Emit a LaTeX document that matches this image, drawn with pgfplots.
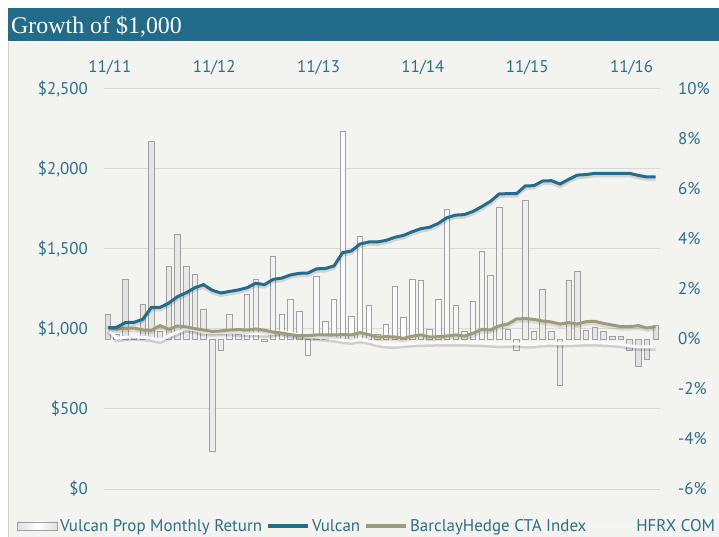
\documentclass[border=0pt]{standalone}
\usepackage{fontspec}
\setmainfont{PT Sans}
\newfontfamily\titlefont{Liberation Serif}
\usepackage{pgfplots}
\usepackage{pgfplotstable}
\pgfplotsset{compat=1.18}
\definecolor{titlebar}{HTML}{236B8A}
\definecolor{panel}{HTML}{F3F3EF}
\definecolor{ticktxt}{HTML}{2B6F8D}
\definecolor{vulcan}{HTML}{226D8D}
\definecolor{cta}{HTML}{9C9C78}
\definecolor{hfrx}{HTML}{FAFAFA}
\definecolor{gridc}{HTML}{D8D8D4}
\definecolor{bardraw}{HTML}{A0A0A0}
\definecolor{barside}{HTML}{E0E0E0}

\pgfplotstableread{
i r v c h
0 1.0 1008 1008 998
1 0.2 1010 1000 942
2 2.4 1040 1004 948
3 0.1 1042 1006 952
4 1.4 1060 994 948
5 7.9 1135 992 942
6 0.3 1135 1021 931
7 2.9 1162 998 956
8 4.2 1202 1019 981
9 2.9 1227 1013 1002
10 2.6 1258 1002 994
11 1.2 1277 994 979
12 -4.5 1242 985 977
13 -0.45 1225 988 979
14 1.0 1235 994 979
15 0.2 1244 996 977
16 1.8 1258 994 973
17 2.4 1286 1000 973
18 -0.1 1277 992 969
19 3.3 1310 981 973
20 1.0 1318 975 985
21 1.6 1338 965 973
22 1.1 1348 958 963
23 -0.65 1350 958 952
24 2.5 1376 963 950
25 0.7 1378 963 945
26 1.6 1394 963 940
27 8.3 1477 965 930
28 0.9 1488 963 925
29 4.1 1531 977 935
30 1.35 1544 965 925
31 0.2 1544 950 910
32 0.6 1554 952 902
33 2.1 1573 950 900
34 0.85 1585 942 905
35 2.4 1608 955 910
36 2.35 1627 963 912
37 0.4 1636 950 913
38 1.6 1660 952 915
39 5.2 1696 956 915
40 1.35 1712 963 915
41 0.3 1715 956 915
42 1.5 1735 973 912
43 3.5 1765 998 912
44 2.55 1798 994 908
45 5.25 1844 1019 905
46 0.4 1846 1031 905
47 -0.45 1846 1063 908
48 5.55 1894 1065 903
49 0.3 1896 1060 903
50 2.0 1925 1050 910
51 0.3 1927 1044 912
52 -1.85 1906 1031 908
53 2.35 1935 1040 910
54 2.7 1962 1031 912
55 0.35 1965 1046 915
56 0.45 1973 1048 915
57 0.3 1973 1035 912
58 0.1 1973 1025 910
59 0.1 1973 1015 905
60 -0.45 1973 1015 895
61 -1.1 1960 1021 888
62 -0.8 1950 1006 888
63 0.55 1950 1015 888
}\data

\pgfplotsset{
  base/.style={
    scale only axis, width=556bp, height=400bp,
    at={(104bp,48bp)}, anchor=south west,
    xmin=-0.45, xmax=63.5,
    axis line style={draw=none}, tick style={draw=none},
    ticklabel style={text=ticktxt, font=\fontsize{17}{19}\selectfont},
  }
}

\begin{document}
\begin{tikzpicture}
\useasboundingbox (0bp,0bp) rectangle (719bp,537bp);
\fill[white] (0bp,0bp) rectangle (719bp,537bp);
\fill[panel] (8bp,0bp) rectangle (719bp,495bp);
\draw[gray!35, line width=1bp] (8.5bp,0bp) -- (8.5bp,495bp);
\fill[titlebar] (8bp,496bp) rectangle (719bp,529bp);
\node[anchor=base west, text=white, inner sep=0pt, font=\titlefont\fontsize{24}{26}\selectfont] at (11bp,503bp) {Growth of \$1,000};

% axis A: grid, left labels, top labels
\begin{axis}[base,
  ymin=0, ymax=2500, ytick={0,500,...,2500},
  yticklabels={{\$0},{\$500},{\$1,000},{\$1,500},{\$2,000},{\$2,500}},
  ymajorgrids, grid style={gridc, line width=1bp},
  yticklabel style={anchor=east, inner sep=0pt, xshift=-16bp},
  xtick={0,12,24,36,48,60},
  xticklabels={11/11,11/12,11/13,11/14,11/15,11/16},
  xticklabel pos=upper,
  xticklabel style={anchor=base, inner sep=0pt, yshift=16bp, xshift=2bp},
]
\addplot[draw=none, forget plot] coordinates {(0,1000)};
\end{axis}

% axis B: monthly return bars, right axis
\begin{axis}[base,
  ymin=-6, ymax=10, ytick={-6,-4,...,10},
  yticklabels={-6\%,-4\%,-2\%,0\%,2\%,4\%,6\%,8\%,10\%},
  yticklabel pos=right,
  yticklabel style={anchor=west, inner sep=0pt, xshift=18bp},
  xtick=\empty,
]
\addplot[ybar, bar width=5.5bp, draw=bardraw, line width=0.8bp,
  left color=barside, right color=barside, middle color=white]
  table[x=i, y=r] {\data};
\end{axis}

% axis C: growth lines + legend
\begin{axis}[base,
  ymin=0, ymax=2500, ytick=\empty, xtick=\empty,
  legend image code/.code={\draw[#1] (0bp,0bp) -- (40bp,0bp);},
  legend style={at={(-0.1565,-0.0925)}, anchor=west, draw=none, fill=none,
    inner sep=0pt, font=\fontsize{17}{19}\selectfont, text=ticktxt,
    legend columns=4,
    nodes={inner sep=2.2bp},
    /tikz/every even column/.append style={column sep=2.5bp}},
  legend cell align=left,
]
\addplot[black, opacity=0.15, line width=3bp, yshift=-2.5bp, forget plot] table[x=i, y=h] {\data};
\addplot[hfrx, line width=3bp, forget plot] table[x=i, y=h] {\data};
\addplot[black, opacity=0.10, line width=3bp, yshift=-2.5bp, forget plot] table[x=i, y=c] {\data};
\addplot[cta, line width=3bp, forget plot] table[x=i, y=c] {\data};
\addplot[black, opacity=0.13, line width=3bp, yshift=-2.5bp, forget plot] table[x=i, y=v] {\data};
\addplot[vulcan, line width=3bp, forget plot] table[x=i, y=v] {\data};

\addlegendimage{legend image code/.code={\draw[bardraw, line width=0.8bp, left color=barside, right color=barside, middle color=white] (0bp,-4bp) rectangle (40bp,4bp);}}
\addlegendentry{Vulcan Prop Monthly Return}
\addlegendimage{vulcan, line width=3bp}
\addlegendentry{Vulcan}
\addlegendimage{cta, line width=3bp}
\addlegendentry{BarclayHedge CTA Index}
\addlegendimage{gray!8, line width=3bp}
\addlegendentry{HFRX COM}
\end{axis}
\end{tikzpicture}
\end{document}
